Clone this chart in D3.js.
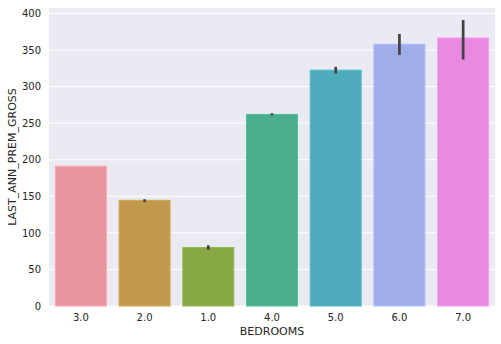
<!DOCTYPE html>
<html>
<head>
<meta charset="utf-8">
<script src="https://cdn.jsdelivr.net/npm/d3@7"></script>
<style>
  html, body { margin: 0; padding: 0; background: #ffffff; }
  svg { display: block; font-family: "DejaVu Sans", sans-serif; }
</style>
</head>
<body>
<svg id="chart" width="501" height="344"></svg>
<script>
// Mean annual gross premium by number of bedrooms, with 95% CI error bars
const categories = ["3.0", "2.0", "1.0", "4.0", "5.0", "6.0", "7.0"];
const means      = [191, 144.5, 80, 262, 322.5, 358, 366.5];
const ciLow      = [191, 142, 77, 260.5, 318, 343.5, 337];
const ciHigh     = [191, 146, 83, 263.5, 327, 372, 391];
const yTicks     = [0, 50, 100, 150, 200, 250, 300, 350, 400];
const barColors  = ["#e9959f", "#c0994c", "#88a846", "#4aae8e", "#4eabbc", "#a1ade9", "#e88ae0"];

const svg = d3.select("#chart");
const margin = { left: 49, right: 6, top: 8, bottom: 38 };
const W = 501, H = 344;
const plotW = W - margin.left - margin.right;
const plotH = H - margin.top - margin.bottom;

const x = d3.scaleBand().domain(categories).range([0, plotW]).paddingInner(0.2).paddingOuter(0.1);
const y = d3.scaleLinear().domain([0, 407.5]).range([plotH, 0]);

const g = svg.append("g").attr("transform", `translate(${margin.left},${margin.top})`);

// background panel
g.append("rect").attr("width", plotW).attr("height", plotH).attr("fill", "#eaeaf2");

// horizontal grid
g.append("g").selectAll("line").data(yTicks).join("line")
  .attr("x1", 0).attr("x2", plotW)
  .attr("y1", d => y(d)).attr("y2", d => y(d))
  .attr("stroke", "#ffffff").attr("stroke-width", 1);

// bars
const data = categories.map((c, i) => ({ c, m: means[i], lo: ciLow[i], hi: ciHigh[i], col: barColors[i] }));
g.append("g").selectAll("rect").data(data).join("rect")
  .attr("x", d => x(d.c))
  .attr("width", x.bandwidth())
  .attr("y", d => y(d.m))
  .attr("height", d => y(0) - y(d.m))
  .attr("fill", d => d.col)
  .attr("stroke", d => d3.color(d.col).brighter(0.25))
  .attr("stroke-width", 1);

// error bars
g.append("g").selectAll("line").data(data.filter(d => d.hi > d.lo)).join("line")
  .attr("x1", d => x(d.c) + x.bandwidth() / 2)
  .attr("x2", d => x(d.c) + x.bandwidth() / 2)
  .attr("y1", d => y(d.lo)).attr("y2", d => y(d.hi))
  .attr("stroke", "#424242").attr("stroke-width", 2.7);

// y axis
const yAxis = g.append("g").call(d3.axisLeft(y).tickValues(yTicks).tickSize(0).tickPadding(8).tickFormat(d3.format("d")));
yAxis.select(".domain").remove();
yAxis.selectAll("text").attr("fill", "#262626").style("font-size", "10px").style("font-family", "DejaVu Sans");

// x axis
const xAxis = g.append("g").attr("transform", `translate(0,${plotH})`).call(d3.axisBottom(x).tickSize(0).tickPadding(8));
xAxis.select(".domain").remove();
xAxis.selectAll("text").attr("fill", "#262626").style("font-size", "10px").style("font-family", "DejaVu Sans");

// axis titles
svg.append("text")
  .attr("x", margin.left + plotW / 2).attr("y", 335)
  .attr("text-anchor", "middle").attr("fill", "#262626")
  .style("font-size", "11px").text("BEDROOMS");

svg.append("text")
  .attr("transform", `translate(16,${margin.top + plotH / 2}) rotate(-90)`)
  .attr("text-anchor", "middle").attr("fill", "#262626")
  .style("font-size", "11px").text("LAST_ANN_PREM_GROSS");
</script>
</body>
</html>
